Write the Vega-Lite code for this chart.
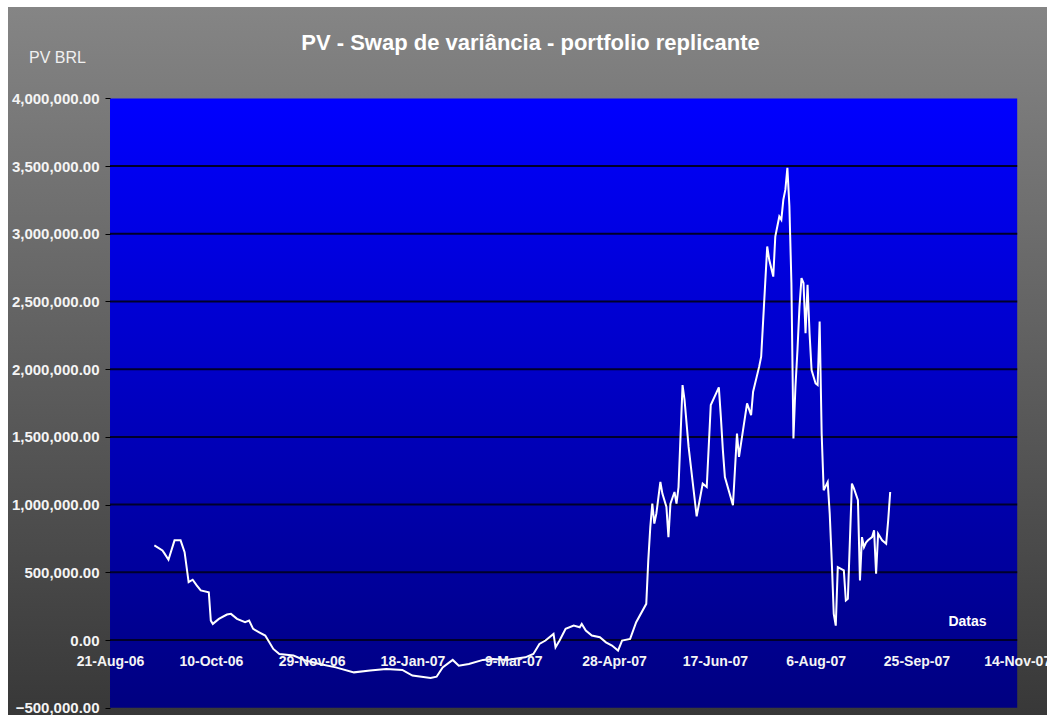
{
  "$schema": "https://vega.github.io/schema/vega-lite/v6.json",
  "width": 1039,
  "height": 708,
  "autosize": {"type": "none"},
  "padding": {"left": 8, "top": 7, "right": 0, "bottom": 0},
  "background": "#ffffff",
  "config": {
    "view": {"stroke": null, "fill": {"gradient": "linear", "x1": 0, "y1": 0, "x2": 0, "y2": 1, "stops": [{"offset": 0, "color": "#858585"}, {"offset": 1, "color": "#383838"}]}},
    "font": "Liberation Sans"
  },
  "title": {"text": "PV - Swap de variância - portfolio replicante", "frame": "group", "fontSize": 22, "fontWeight": "bold", "color": "#ffffff", "font": "Liberation Sans", "anchor": "middle", "baseline": "middle", "offset": 0, "dy": 58, "dx": 3},
  "data": {
    "format": {"parse": {"d": "date:'%Y-%m-%d'"}},
    "values": [
      {"d": "2006-09-12", "v": 699000}, {"d": "2006-09-16", "v": 662000}, {"d": "2006-09-17", "v": 640000}, {"d": "2006-09-19", "v": 593000},
      {"d": "2006-09-22", "v": 736000}, {"d": "2006-09-25", "v": 736000}, {"d": "2006-09-27", "v": 649000}, {"d": "2006-09-29", "v": 427000},
      {"d": "2006-10-01", "v": 445000}, {"d": "2006-10-03", "v": 403000}, {"d": "2006-10-05", "v": 366000}, {"d": "2006-10-09", "v": 353000},
      {"d": "2006-10-10", "v": 143000}, {"d": "2006-10-11", "v": 119000}, {"d": "2006-10-14", "v": 156000}, {"d": "2006-10-18", "v": 188000},
      {"d": "2006-10-20", "v": 193000}, {"d": "2006-10-23", "v": 156000}, {"d": "2006-10-27", "v": 131000}, {"d": "2006-10-29", "v": 143000},
      {"d": "2006-10-31", "v": 82000}, {"d": "2006-11-03", "v": 57000}, {"d": "2006-11-06", "v": 33000}, {"d": "2006-11-10", "v": -66000},
      {"d": "2006-11-13", "v": -103000}, {"d": "2006-11-20", "v": -115000}, {"d": "2006-11-26", "v": -152000}, {"d": "2006-12-03", "v": -177000},
      {"d": "2006-12-11", "v": -202000}, {"d": "2006-12-20", "v": -239000}, {"d": "2006-12-28", "v": -226000}, {"d": "2007-01-05", "v": -214000},
      {"d": "2007-01-13", "v": -221000}, {"d": "2007-01-18", "v": -263000}, {"d": "2007-01-27", "v": -280000}, {"d": "2007-01-30", "v": -271000},
      {"d": "2007-02-02", "v": -202000}, {"d": "2007-02-07", "v": -147000}, {"d": "2007-02-10", "v": -190000}, {"d": "2007-02-15", "v": -177000},
      {"d": "2007-02-22", "v": -147000}, {"d": "2007-02-27", "v": -140000}, {"d": "2007-03-06", "v": -147000}, {"d": "2007-03-15", "v": -128000},
      {"d": "2007-03-19", "v": -103000}, {"d": "2007-03-22", "v": -29000}, {"d": "2007-03-25", "v": -4000}, {"d": "2007-03-29", "v": 45000},
      {"d": "2007-03-30", "v": -54000}, {"d": "2007-04-01", "v": -4000}, {"d": "2007-04-04", "v": 82000}, {"d": "2007-04-08", "v": 106000},
      {"d": "2007-04-11", "v": 94000}, {"d": "2007-04-12", "v": 119000}, {"d": "2007-04-14", "v": 70000}, {"d": "2007-04-17", "v": 33000},
      {"d": "2007-04-21", "v": 20000}, {"d": "2007-04-24", "v": -17000}, {"d": "2007-04-27", "v": -41000}, {"d": "2007-04-30", "v": -78000},
      {"d": "2007-05-02", "v": -4000}, {"d": "2007-05-06", "v": 8000}, {"d": "2007-05-09", "v": 131000}, {"d": "2007-05-14", "v": 267000},
      {"d": "2007-05-15", "v": 588000}, {"d": "2007-05-16", "v": 834000}, {"d": "2007-05-17", "v": 1007000}, {"d": "2007-05-18", "v": 860000},
      {"d": "2007-05-19", "v": 933000}, {"d": "2007-05-21", "v": 1167000}, {"d": "2007-05-22", "v": 1081000}, {"d": "2007-05-24", "v": 982000},
      {"d": "2007-05-25", "v": 760000}, {"d": "2007-05-26", "v": 1007000}, {"d": "2007-05-28", "v": 1093000}, {"d": "2007-05-29", "v": 1007000},
      {"d": "2007-05-30", "v": 1130000}, {"d": "2007-06-01", "v": 1883000}, {"d": "2007-06-02", "v": 1772000}, {"d": "2007-06-04", "v": 1426000},
      {"d": "2007-06-08", "v": 913000}, {"d": "2007-06-11", "v": 1155000}, {"d": "2007-06-13", "v": 1130000}, {"d": "2007-06-15", "v": 1735000},
      {"d": "2007-06-19", "v": 1866000}, {"d": "2007-06-20", "v": 1648000}, {"d": "2007-06-21", "v": 1402000}, {"d": "2007-06-22", "v": 1204000},
      {"d": "2007-06-26", "v": 995000}, {"d": "2007-06-28", "v": 1525000}, {"d": "2007-06-29", "v": 1352000}, {"d": "2007-07-03", "v": 1748000},
      {"d": "2007-07-05", "v": 1661000}, {"d": "2007-07-06", "v": 1834000}, {"d": "2007-07-09", "v": 2019000}, {"d": "2007-07-10", "v": 2092000},
      {"d": "2007-07-11", "v": 2364000}, {"d": "2007-07-12", "v": 2636000}, {"d": "2007-07-13", "v": 2906000}, {"d": "2007-07-14", "v": 2808000},
      {"d": "2007-07-16", "v": 2684000}, {"d": "2007-07-17", "v": 2980000}, {"d": "2007-07-18", "v": 3054000}, {"d": "2007-07-19", "v": 3128000},
      {"d": "2007-07-20", "v": 3104000}, {"d": "2007-07-21", "v": 3252000}, {"d": "2007-07-22", "v": 3326000}, {"d": "2007-07-23", "v": 3487000},
      {"d": "2007-07-24", "v": 3203000}, {"d": "2007-07-25", "v": 2636000}, {"d": "2007-07-26", "v": 1488000}, {"d": "2007-07-27", "v": 1870000},
      {"d": "2007-07-28", "v": 2142000}, {"d": "2007-07-29", "v": 2462000}, {"d": "2007-07-30", "v": 2673000}, {"d": "2007-07-31", "v": 2636000},
      {"d": "2007-08-01", "v": 2266000}, {"d": "2007-08-02", "v": 2623000}, {"d": "2007-08-03", "v": 2266000}, {"d": "2007-08-04", "v": 1994000},
      {"d": "2007-08-06", "v": 1895000}, {"d": "2007-08-07", "v": 1883000}, {"d": "2007-08-08", "v": 2352000}, {"d": "2007-08-09", "v": 1525000},
      {"d": "2007-08-10", "v": 1106000}, {"d": "2007-08-12", "v": 1167000}, {"d": "2007-08-13", "v": 933000}, {"d": "2007-08-14", "v": 588000},
      {"d": "2007-08-15", "v": 193000}, {"d": "2007-08-16", "v": 106000}, {"d": "2007-08-17", "v": 538000}, {"d": "2007-08-20", "v": 514000},
      {"d": "2007-08-21", "v": 292000}, {"d": "2007-08-22", "v": 304000}, {"d": "2007-08-24", "v": 1155000}, {"d": "2007-08-25", "v": 1120000},
      {"d": "2007-08-27", "v": 1032000}, {"d": "2007-08-28", "v": 440000}, {"d": "2007-08-29", "v": 760000}, {"d": "2007-08-30", "v": 686000},
      {"d": "2007-08-31", "v": 720000}, {"d": "2007-09-01", "v": 736000}, {"d": "2007-09-03", "v": 760000}, {"d": "2007-09-04", "v": 810000},
      {"d": "2007-09-05", "v": 489000}, {"d": "2007-09-06", "v": 785000}, {"d": "2007-09-08", "v": 736000}, {"d": "2007-09-10", "v": 711000},
      {"d": "2007-09-11", "v": 884000}, {"d": "2007-09-12", "v": 1093000}
    ]
  },
  "layer": [
    {
      "data": {"values": [{}]},
      "mark": {"type": "rect", "color": {"gradient": "linear", "x1": 0, "y1": 0, "x2": 0, "y2": 1, "stops": [{"offset": 0, "color": "#0000ff"}, {"offset": 1, "color": "#000080"}]}},
      "encoding": {
        "x": {"datum": {"year": 2006, "month": 8, "date": 21}, "type": "temporal", "scale": {"domain": [{"year": 2006, "month": 7, "date": 1, "hours": 9, "minutes": 36}, {"year": 2007, "month": 11, "date": 28, "hours": 18, "minutes": 43}], "nice": false}},
        "x2": {"datum": {"year": 2007, "month": 11, "date": 14}},
        "y": {"datum": 4000000, "type": "quantitative", "scale": {"domain": [-553900, 4675000], "nice": false, "zero": false}},
        "y2": {"datum": -500000}
      }
    },
    {
      "data": {"values": [{"g": 0}, {"g": 500000}, {"g": 1000000}, {"g": 1500000}, {"g": 2000000}, {"g": 2500000}, {"g": 3000000}, {"g": 3500000}]},
      "mark": {"type": "rule", "color": "#00002a", "strokeWidth": 2},
      "encoding": {
        "x": {"datum": {"year": 2006, "month": 8, "date": 21}, "type": "temporal", "scale": {"domain": [{"year": 2006, "month": 7, "date": 1, "hours": 9, "minutes": 36}, {"year": 2007, "month": 11, "date": 28, "hours": 18, "minutes": 43}], "nice": false}},
        "x2": {"datum": {"year": 2007, "month": 11, "date": 14}},
        "y": {"field": "g", "type": "quantitative", "scale": {"domain": [-553900, 4675000], "nice": false, "zero": false}}
      }
    },
    {
      "mark": {"type": "line", "color": "#ffffff", "strokeWidth": 2},
      "encoding": {
        "x": {
          "field": "d", "type": "temporal",
          "scale": {"domain": [{"year": 2006, "month": 7, "date": 1, "hours": 9, "minutes": 36}, {"year": 2007, "month": 11, "date": 28, "hours": 18, "minutes": 43}], "nice": false},
          "axis": {
            "orient": "bottom", "offset": -65, "domain": false, "ticks": false, "grid": false,
            "values": [{"year": 2006, "month": 8, "date": 21}, {"year": 2006, "month": 10, "date": 10}, {"year": 2006, "month": 11, "date": 29}, {"year": 2007, "month": 1, "date": 18}, {"year": 2007, "month": 3, "date": 9}, {"year": 2007, "month": 4, "date": 28}, {"year": 2007, "month": 6, "date": 17}, {"year": 2007, "month": 8, "date": 6}, {"year": 2007, "month": 9, "date": 25}, {"year": 2007, "month": 11, "date": 14}],
            "format": "%-d-%b-%y",
            "labelFont": "Liberation Sans", "labelFontSize": 14, "labelFontWeight": "bold", "labelColor": "#f4f4f4", "labelPadding": 4,
            "labelOverlap": false, "labelFlush": false, "labelBound": false,
            "title": "Datas", "titleX": 959, "titleY": -29, "titleAlign": "center", "titleBaseline": "middle", "titleAngle": 0,
            "titleFont": "Liberation Sans", "titleFontSize": 14, "titleFontWeight": "bold", "titleColor": "#ffffff",
            "zindex": 1
          }
        },
        "y": {
          "field": "v", "type": "quantitative",
          "scale": {"domain": [-553900, 4675000], "nice": false, "zero": false},
          "axis": {
            "orient": "left", "offset": -102, "domain": false, "ticks": true, "tickSize": 5, "tickColor": "#000000", "tickWidth": 1, "grid": false,
            "values": [-500000, 0, 500000, 1000000, 1500000, 2000000, 2500000, 3000000, 3500000, 4000000],
            "format": ",.2f",
            "labelFont": "Liberation Sans", "labelFontSize": 15, "labelFontWeight": "bold", "labelColor": "#f4f4f4", "labelPadding": 6,
            "labelOverlap": false, "labelFlush": false, "labelBound": false,
            "title": "PV BRL", "titleAngle": 0, "titleX": -53, "titleY": 50, "titleAlign": "center", "titleBaseline": "middle",
            "titleFont": "Liberation Sans", "titleFontSize": 16, "titleFontWeight": "normal", "titleColor": "#f0f0f0",
            "zindex": 1
          }
        }
      }
    }
  ]
}
